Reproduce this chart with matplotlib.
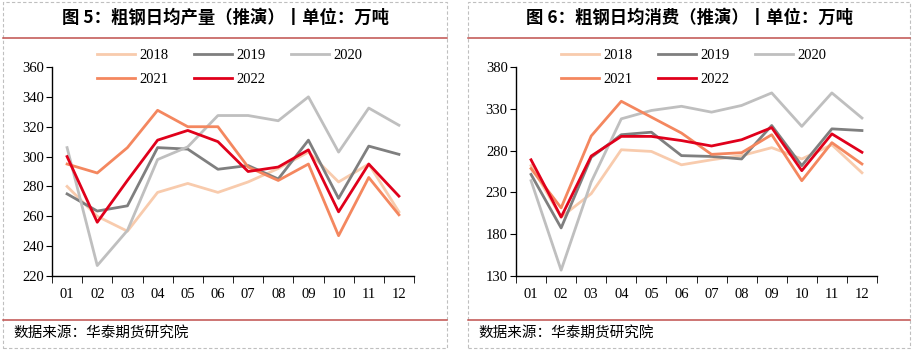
import matplotlib.pyplot as plt
from matplotlib.patches import Rectangle
from matplotlib.lines import Line2D

months = ['01', '02', '03', '04', '05', '06', '07', '08', '09', '10', '11', '12']
years = ['2018', '2019', '2020', '2021', '2022']

# 图5 粗钢日均产量
prod_2018 = [280, 260, 250, 276, 282, 276, 283, 292, 303, 283, 295, 263]
prod_2019 = [275, 263.5, 267, 306, 305, 291.5, 294, 285, 311, 272, 307, 301.5]
prod_2020 = [306, 227, 250.5, 298, 306.5, 327.5, 327.5, 324, 340, 303, 332.5, 321]
prod_2021 = [295, 289, 306, 331, 320, 320, 293, 284, 295, 247, 286, 261]
prod_2022 = [300, 256, 284, 311, 317.5, 310, 290, 293, 304.5, 263, 295, 273.5]

# 图6 粗钢日均消费
cons_2018 = [262, 200.5, 228.5, 281, 279, 263, 269, 274, 283.5, 270, 287, 253.5]
cons_2019 = [251.5, 187.5, 272, 299, 302, 274, 273, 270, 310, 262, 306, 304]
cons_2020 = [244, 137, 242.5, 318, 328, 333, 326, 334, 349, 309, 349, 319]
cons_2021 = [258.5, 211.5, 297.5, 339, 320, 301, 275.5, 277.5, 299, 244, 289.5, 264]
cons_2022 = [269, 200.5, 273.5, 297, 297, 292, 285.5, 293, 307.5, 256, 300, 278]

colors = ['#F8CBAD', '#7F7F7F', '#BFBFBF', '#F4875F', '#E0001B']
widths = [2.0, 2.0, 2.0, 2.0, 2.0]

W, H = 914, 352
fig = plt.figure(figsize=(W / 100, H / 100), dpi=100)

cjk = ['Noto Sans CJK SC', 'DejaVu Sans']
serif = 'Liberation Serif'


def fx(px):
    return px / W


def fy(py):
    return 1 - py / H


def panel(x0, x1, ax_l, ax_r, series, ylim, yticks, title):
    # dashed frame and red separators
    fig.add_artist(Rectangle((fx(x0), fy(348)), fx(x1 - x0), (348 - 2) / H,
                             transform=fig.transFigure, fill=False,
                             edgecolor='#BFBFBF', linestyle=(0, (3, 2)), linewidth=0.8))
    for py in (37.5, 319.5):
        fig.add_artist(Line2D([fx(x0), fx(x1)], [fy(py), fy(py)],
                              transform=fig.transFigure, color='#C0504D', linewidth=1.1))
    fig.text(fx((x0 + x1) / 2), fy(18), title, ha='center', va='center',
             family=cjk, fontsize=12.5, fontweight='bold')
    fig.text(fx(x0 + 10), fy(333), '数据来源：华泰期货研究院', ha='left', va='center',
             family=cjk, fontsize=10.5)

    ax = fig.add_axes([fx(ax_l), fy(276), fx(ax_r - ax_l), 209 / H])
    x = list(range(len(months)))
    handles = []
    for vals, c, lw, lab in zip(series, colors, widths, years):
        h, = ax.plot(x, vals, color=c, linewidth=lw, label=lab)
        handles.append(h)
    ax.set_xlim(-0.5, 11.5)
    ax.set_ylim(*ylim)
    ax.set_yticks(yticks)
    ax.set_xticks(x)
    ax.set_xticklabels(months)
    ax.set_xticks([i - 0.5 for i in range(13)], minor=True)
    ax.tick_params(axis='x', which='major', length=0, pad=9)
    ax.tick_params(axis='x', which='minor', length=5, direction='out')
    ax.tick_params(axis='y', length=4, direction='out', pad=2)
    for lbl in ax.get_xticklabels() + ax.get_yticklabels():
        lbl.set_family(serif)
        lbl.set_fontsize(10.5)
    for s in ('top', 'right'):
        ax.spines[s].set_visible(False)
    for s in ('left', 'bottom'):
        ax.spines[s].set_linewidth(1.0)

    order = [0, 3, 1, 4, 2]
    ax.legend([handles[i] for i in order], [years[i] for i in order], ncol=3,
              loc='upper left', bbox_to_anchor=(45 / (ax_r - ax_l), 1.085),
              frameon=False, borderpad=0, borderaxespad=0, handlelength=2.6,
              handletextpad=0.3, columnspacing=1.75, labelspacing=0.7,
              prop={'family': serif, 'size': 10.5})
    return ax


panel(3, 447, 52, 414,
      [prod_2018, prod_2019, prod_2020, prod_2021, prod_2022],
      (220, 360), range(220, 361, 20),
      '图 5：粗钢日均产量（推演）丨单位：万吨')
panel(468, 910, 516, 877,
      [cons_2018, cons_2019, cons_2020, cons_2021, cons_2022],
      (130, 380), range(130, 381, 50),
      '图 6：粗钢日均消费（推演）丨单位：万吨')

fig.savefig('out.png', dpi=100)
